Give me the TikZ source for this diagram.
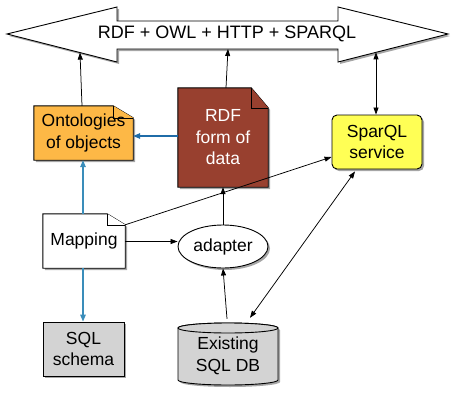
\documentclass[tikz,border=0pt]{standalone}
\usepackage{fontspec}
\setmainfont{Liberation Sans}
\usetikzlibrary{shadows,arrows.meta,calc,backgrounds,shapes.geometric}
\definecolor{ontoorange}{HTML}{FDB846}
\definecolor{rdfbrown}{HTML}{98402F}
\definecolor{sparyellow}{HTML}{FFFF55}
\definecolor{boxgray}{HTML}{D3D3D3}
\definecolor{darkblue}{HTML}{1F6CA8}
\definecolor{lightblue}{HTML}{3A8DBA}
\begin{document}
\begin{tikzpicture}[x=1pt,y=1pt,
  lbl/.style={inner sep=0pt, align=center, font=\fontsize{17.5}{21.5}\selectfont},
  outline/.style={draw=black, line width=0.9pt, line join=miter},
  shade/.style={drop shadow={shadow xshift=2pt,shadow yshift=-2pt,opacity=0.35,fill=black}},
  tip/.style={-{Triangle[length=7pt,width=5pt]}},
  conn/.style={line width=0.75pt, tip},
  biconn/.style={line width=0.75pt, {Triangle[length=7pt,width=5pt]}-{Triangle[length=7pt,width=5pt]}},
  blueconn/.style={line width=1.3pt, -{Triangle[length=7pt,width=5.5pt]}}
]
\useasboundingbox (0,0) rectangle (455,392);

% big double arrow
\draw[outline, fill=white, shade] (7,358) -- (117,385) -- (117,371) -- (338,371) -- (338,385)
  -- (448,358) -- (338,330) -- (338,343) -- (117,343) -- (117,330) -- cycle;
\node[lbl, font=\fontsize{18}{21}\selectfont] (proto) at (227,358) {RDF + OWL + HTTP + SPARQL};
\coordinate (pleft) at (80,339.4);
\coordinate (pmid) at (228,343);
\coordinate (pright) at (376,339.7);

% nodes
\node[lbl, minimum width=99pt, minimum height=54pt] (onto) at (83.5,259) {Ontologies\\of objects};
\node[lbl, minimum width=90pt, minimum height=99pt, text=white] (rdf) at (223,254.5) {RDF\\form of\\data};
\node[lbl, minimum width=90pt, minimum height=54pt, outline, rounded corners=5pt, fill=sparyellow, shade] (spar) at (377,250) {SparQL\\service};
\node[lbl, minimum width=82pt, minimum height=54pt] (map) at (84,151) {Mapping};
\node[lbl, ellipse, minimum width=90pt, minimum height=43pt, outline, fill=white, shade] (adapt) at (223,145.5) {adapter};
\node[lbl, minimum width=81pt, minimum height=54pt, outline, fill=boxgray, shade] (schema) at (83.5,43) {SQL\\schema};
\node[lbl, minimum width=100pt, minimum height=62pt] (db) at (228,36) {Existing\\SQL DB};

\begin{scope}[on background layer]
% Ontologies note
\draw[outline, fill=ontoorange, shade] (onto.south west) -- (onto.south east) -- ($(onto.north east)+(0,-12)$)
  -- ($(onto.north east)+(-20,0)$) -- (onto.north west) -- cycle;
\draw[outline, line width=0.6pt, fill=ontoorange] ($(onto.north east)+(-20,0)$) -- ($(onto.north east)+(-20,-12)$) -- ($(onto.north east)+(0,-12)$);
% RDF note
\draw[outline, fill=rdfbrown, shade] (rdf.south west) -- (rdf.south east) -- ($(rdf.north east)+(0,-20)$)
  -- ($(rdf.north east)+(-17,0)$) -- (rdf.north west) -- cycle;
\draw[outline, line width=0.6pt, fill=rdfbrown] ($(rdf.north east)+(-17,0)$) -- ($(rdf.north east)+(-17,-20)$) -- ($(rdf.north east)+(0,-20)$);
% Mapping note
\draw[outline, fill=white, shade] (map.south west) -- (map.south east) -- ($(map.north east)+(0,-11)$)
  -- ($(map.north east)+(-18,0)$) -- (map.north west) -- cycle;
\draw[outline, line width=0.6pt, fill=white] ($(map.north east)+(-18,0)$) -- ($(map.north east)+(-18,-11)$) -- ($(map.north east)+(0,-11)$);
% cylinder
\draw[outline, fill=boxgray, shade] (178,64) -- (178,12) arc[start angle=180, end angle=360, x radius=50, y radius=5]
  -- (278,64) arc[start angle=0, end angle=180, x radius=50, y radius=5] -- cycle;
\draw[outline, fill=boxgray] (228,64) ellipse[x radius=50, y radius=5];
\end{scope}

% connectors
\draw[conn] ($(onto.north)+(-1.5,0)$) -- (pleft);
\draw[conn] ($(rdf.north)+(3,0)$) -- (pmid);
\draw[biconn] ($(spar.north)+(-1,0)$) -- (pright);
\draw[blueconn, draw=darkblue, fill=darkblue] (rdf.west |- 0,256) -- (onto.east |- 0,256);
\draw[blueconn, draw=lightblue, fill=lightblue] ($(map.north)+(-1,0)$) -- ($(onto.south)+(-0.5,0)$);
\draw[blueconn, draw=lightblue, fill=lightblue] ($(map.south)+(-1,0)$) -- ($(schema.north)+(-0.5,0)$);
\draw[conn] (map.east |- 0,150.5) -- (adapt.west |- 0,150.5);
\draw[conn] ($(map.north east)+(0,-11)$) -- (spar.west |- 0,235);
\draw[conn] ($(db.north)+(-1,6)$) -- (adapt.south);
\draw[conn] (adapt.north) -- (rdf.south);
\draw[biconn] ($(spar.south)+(-22,-2)$) -- ($(db.north)+(22,7)$);
\end{tikzpicture}
\end{document}
